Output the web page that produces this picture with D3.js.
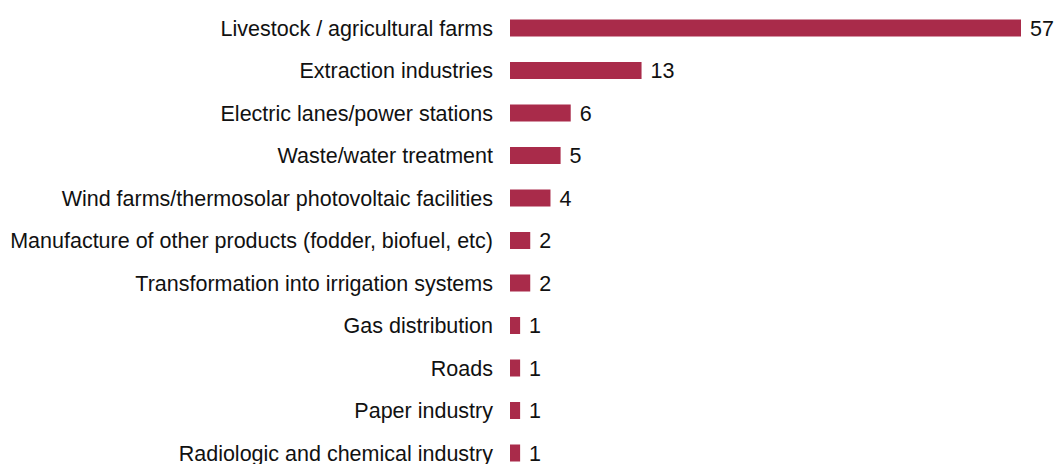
<!DOCTYPE html>
<html>
<head>
<meta charset="utf-8">
<script src="https://cdn.jsdelivr.net/npm/d3@7"></script>
<style>
  body { margin: 0; background: #fff; }
  text { font-family: "Liberation Sans", Arial, sans-serif; }
</style>
</head>
<body>
<svg id="chart" width="1059" height="464"></svg>
<script>
const categories = [
  'Livestock / agricultural farms',
  'Extraction industries',
  'Electric lanes/power stations',
  'Waste/water treatment',
  'Wind farms/thermosolar photovoltaic facilities',
  'Manufacture of other products (fodder, biofuel, etc)',
  'Transformation into irrigation systems',
  'Gas distribution',
  'Roads',
  'Paper industry',
  'Radiologic and chemical industry',
]
const values = [57, 13, 6, 5, 4, 2, 2, 1, 1, 1, 1]

const barColor = '#a92b4a'

const svg = d3.select('#chart')

// the long first bar is cut at the right edge in the original
const x = d3.scaleLinear().domain([0, 50.5]).range([510, 1021]).clamp(true)
const y = d3.scaleBand()
  .domain(categories)
  .range([6.75, 474.25])
  .paddingInner(0.6)
  .paddingOuter(0.3)

const rows = svg.selectAll('.row')
  .data(categories.map((c, i) => ({cat: c, value: values[i]})))
  .enter()
  .append('g')
  .attr('class', 'row')

rows.append('rect')
  .attr('x', x(0))
  .attr('y', (d) => y(d.cat))
  .attr('width', (d) => x(d.value) - x(0))
  .attr('height', y.bandwidth())
  .attr('fill', barColor)

rows.append('text')
  .attr('x', x(0) - 17)
  .attr('y', (d) => y(d.cat) + y.bandwidth() / 2)
  .attr('dy', '0.35em')
  .attr('text-anchor', 'end')
  .attr('font-size', 21.5)
  .attr('fill', '#111')
  .text((d) => d.cat)

rows.append('text')
  .attr('x', (d) => x(d.value) + 9)
  .attr('y', (d) => y(d.cat) + y.bandwidth() / 2)
  .attr('dy', '0.35em')
  .attr('font-size', 21.5)
  .attr('fill', '#111')
  .text((d) => d.value)
</script>
</body>
</html>
